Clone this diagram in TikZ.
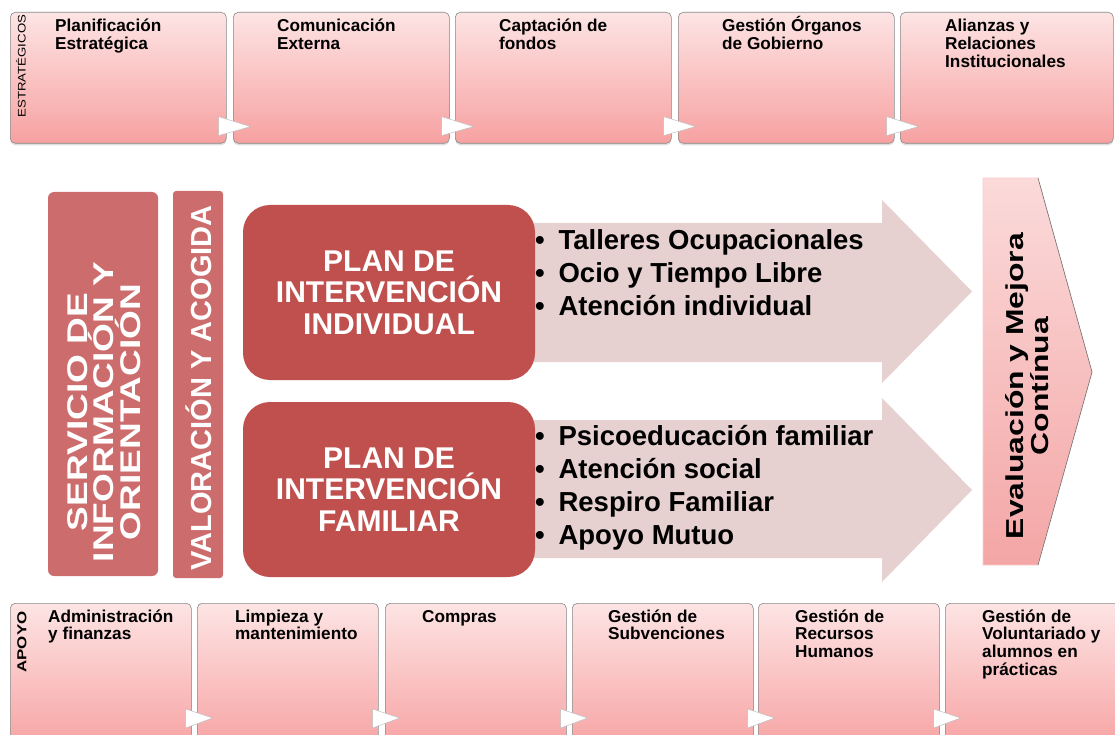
\documentclass[tikz,border=0pt]{standalone}
\usepackage{fontspec}
\setmainfont{Liberation Sans}
\newfontfamily\widefont[FakeStretch=1.3]{Liberation Sans}
\newfontfamily\smallwidefont[FakeStretch=1.2]{Liberation Sans}
\usetikzlibrary{calc,shadows}
\definecolor{boxtop}{HTML}{FDE4E4}
\definecolor{boxbot}{HTML}{F7A1A1}
\definecolor{boxline}{HTML}{8A8A8A}
\definecolor{servfill}{HTML}{CD6C6C}
\definecolor{planfill}{HTML}{C0504D}
\definecolor{arrowfill}{HTML}{E6D0D0}
\definecolor{evaltop}{HTML}{FBDADA}
\definecolor{evalbot}{HTML}{F4A6A6}
\definecolor{evalline}{HTML}{6E6E6E}
\newcommand{\lines}[1]{\begin{tabular}[t]{@{}l@{}}#1\end{tabular}}

\begin{document}
\begin{tikzpicture}[x=1pt,y=-1pt]
    \tikzset{%
      topbox/.style={rectangle, rounded corners=5pt, draw=boxline,
        line width=0.6pt, top color=boxtop, bottom color=boxbot,
        anchor=north west, inner sep=0pt, minimum width=216pt,
        minimum height=131pt, drop shadow={shadow xshift=0pt,
        shadow yshift=-2pt, opacity=0.25}},
      botbox/.style={topbox, minimum width=181pt, minimum height=150pt},
      boxtext/.style={anchor=base west, inner sep=0pt,
        font=\fontsize{17.2}{17.8}\selectfont\bfseries},
      sidetext/.style={rotate=90, inner sep=0pt},
      tri/.style={draw=black!25, line width=0.5pt, fill=white},
      servbox/.style={rectangle, rounded corners=6pt, fill=servfill,
        inner sep=0pt},
      planbox/.style={rectangle, rounded corners=27pt, fill=planfill,
        inner sep=0pt, minimum width=292pt, minimum height=175pt,
        align=center, text=white,
        font=\fontsize{30}{31.5}\selectfont\bfseries},
      bullets/.style={anchor=base west, inner sep=0pt,
        font=\fontsize{27.5}{32.5}\selectfont\bfseries},
    }
    \useasboundingbox (0,0) rectangle (1115,735);
    \clip (0,0) rectangle (1115,735);

    % estrategicos
    \node[topbox] (t1) at (10,12) {};
    \node[topbox] (t2) at (233,12) {};
    \node[topbox] (t3) at (455,12) {};
    \node[topbox] (t4) at (678,12) {};
    \node[topbox, minimum width=213pt] (t5) at (900,12) {};
    \draw[tri] ($(t1.south east)+(-8,-27)$) -- ++(0,19) -- ++(32,-9) -- cycle;
    \draw[tri] ($(t2.south east)+(-8,-27)$) -- ++(0,19) -- ++(32,-9) -- cycle;
    \draw[tri] ($(t3.south east)+(-8,-27)$) -- ++(0,19) -- ++(32,-9) -- cycle;
    \draw[tri] ($(t4.south east)+(-8,-27)$) -- ++(0,19) -- ++(32,-9) -- cycle;
    \node[sidetext, font=\fontsize{11}{12}\smallwidefont] (estr) at (21,66) {ESTRATÉGICOS};
    \node[boxtext] (t1txt) at (55,32) {\lines{Planificación\\Estratégica}};
    \node[boxtext] (t2txt) at (277,32) {\lines{Comunicación\\Externa}};
    \node[boxtext] (t3txt) at (499,32) {\lines{Captación de\\fondos}};
    \node[boxtext] (t4txt) at (722,32) {\lines{Gestión Órganos\\de Gobierno}};
    \node[boxtext] (t5txt) at (945,32) {\lines{Alianzas y\\Relaciones\\Institucionales}};

    % apoyo
    \node[botbox] (b1) at (10,603) {};
    \node[botbox] (b2) at (197,603) {};
    \node[botbox] (b3) at (385,603) {};
    \node[botbox] (b4) at (572,603) {};
    \node[botbox] (b5) at (758,603) {};
    \node[botbox] (b6) at (945,603) {};
    \draw[tri] ($(b1.north east)+(-6,106)$) -- ++(0,19) -- ++(27,-10) -- cycle;
    \draw[tri] ($(b2.north east)+(-6,106)$) -- ++(0,19) -- ++(27,-10) -- cycle;
    \draw[tri] ($(b3.north east)+(-6,106)$) -- ++(0,19) -- ++(27,-10) -- cycle;
    \draw[tri] ($(b4.north east)+(-6,106)$) -- ++(0,19) -- ++(27,-10) -- cycle;
    \draw[tri] ($(b5.north east)+(-6,106)$) -- ++(0,19) -- ++(27,-10) -- cycle;
    \node[sidetext, font=\fontsize{13}{14}\widefont\bfseries] (apoyo) at (22,642) {APOYO};
    \node[boxtext] (b1txt) at (48,622) {\lines{Administración\\y finanzas}};
    \node[boxtext] (b2txt) at (235,622) {\lines{Limpieza y\\mantenimiento}};
    \node[boxtext] (b3txt) at (422,622) {\lines{Compras}};
    \node[boxtext] (b4txt) at (608,622) {\lines{Gestión de\\Subvenciones}};
    \node[boxtext] (b5txt) at (795,622) {\lines{Gestión de\\Recursos\\Humanos}};
    \node[boxtext] (b6txt) at (982,622) {\lines{Gestión de\\Voluntariado y\\alumnos en\\prácticas}};

    % servicio y valoracion
    \node[servbox, minimum width=110pt, minimum height=384pt] (serv) at (103,384) {};
    \node[sidetext, align=center, text=white,
      font=\fontsize{28.5}{25}\widefont\bfseries] (servtxt) at (104,412)
      {SERVICIO DE\\INFORMACIÓN Y\\ORIENTACIÓN};
    \node[servbox, rounded corners=3pt, minimum width=50pt, minimum height=387pt] (val) at (198,384.5) {};
    \node[sidetext, text=white, font=\fontsize{29}{30}\selectfont\bfseries]
      (valtxt) at (199,388) {VALORACIÓN Y ACOGIDA};

    % flechas
    \fill[arrowfill] (530,223) -- (882,223) -- (882,200) -- (972,291.5)
      -- (882,383) -- (882,362) -- (530,362) -- cycle;
    \fill[arrowfill] (530,420) -- (882,420) -- (882,398) -- (972,490)
      -- (882,582) -- (882,558) -- (530,558) -- cycle;

    % planes
    \node[planbox] (pind) at (389,292.5) {PLAN DE\\INTERVENCIÓN\\INDIVIDUAL};
    \node[planbox] (pfam) at (389,489.5) {PLAN DE\\INTERVENCIÓN\\FAMILIAR};
    \node[bullets] (lind) at (535,250) {\lines{\textbullet\enspace Talleres Ocupacionales\\
      \textbullet\enspace Ocio y Tiempo Libre\\\textbullet\enspace Atención individual}};
    \node[bullets, font=\fontsize{27.5}{33.3}\selectfont\bfseries] (lfam) at (535,445)
      {\lines{\textbullet\enspace Psicoeducación familiar\\\textbullet\enspace Atención social\\
      \textbullet\enspace Respiro Familiar\\\textbullet\enspace Apoyo Mutuo}};

    % evaluacion
    \draw[draw=evaltop!80!evalbot, line width=0.6pt, top color=evaltop, bottom color=evalbot]
      (983,178) -- (1038,178) -- (1092,372) -- (1038,565) -- (983,565) -- cycle;
    \draw[evalline, line width=0.6pt] (1038,178) -- (1092,372) -- (1038,565);
    \node[sidetext, align=center, font=\fontsize{24.5}{25}\widefont\bfseries]
      (evtxt) at (1027,386) {Evaluación y Mejora\\Contínua};
\end{tikzpicture}
\end{document}
